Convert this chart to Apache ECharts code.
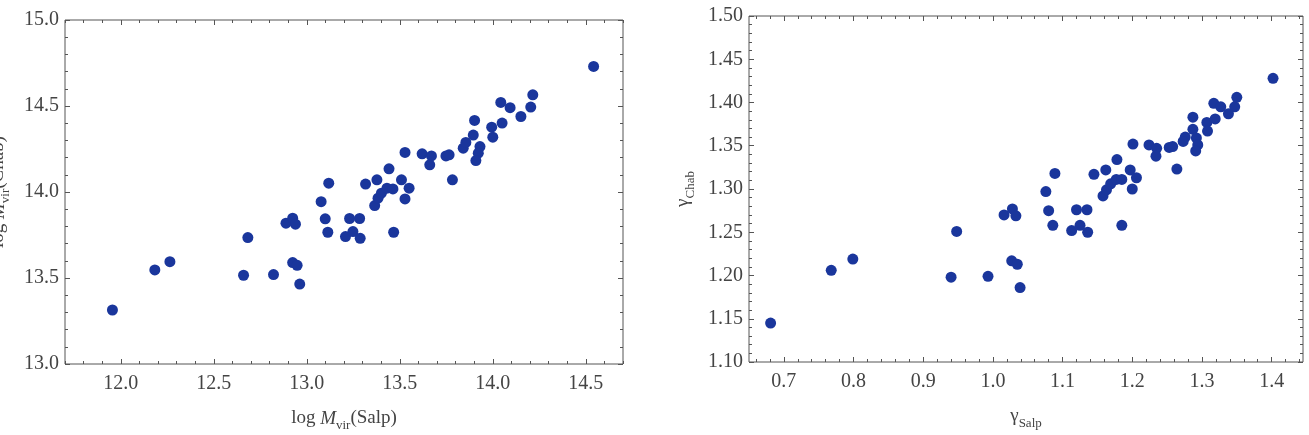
<!DOCTYPE html>
<html>
<head>
<meta charset="utf-8">
<script src="https://cdn.jsdelivr.net/npm/echarts@6/dist/echarts.min.js"></script>
<style>
  html, body { margin: 0; padding: 0; background: #fff; }
  #chart { width: 1309px; height: 435px; }
</style>
</head>
<body>
<div id="chart"></div>
<script>
// left panel: log Mvir with Salpeter vs Chabrier IMF
const salpMass = [11.955, 12.183, 12.264, 12.660, 12.683, 12.821, 12.888, 12.924, 12.939, 12.924,
  12.948, 12.962, 13.077, 13.118, 13.099, 13.113, 13.230, 13.284, 13.208, 13.248,
  13.287, 13.316, 13.377, 13.442, 13.365, 13.383, 13.401, 13.431, 13.463, 13.509,
  13.550, 13.528, 13.467, 13.528, 13.620, 13.670, 13.661, 13.748, 13.765, 13.783,
  13.841, 14.542, 14.215, 14.204, 14.043, 14.093, 14.151, 14.050, 13.994, 14.000,
  13.902, 13.895, 13.855, 13.931, 13.922, 13.909];
const chabMass = [13.314, 13.547, 13.595, 13.516, 13.735, 13.520, 13.819, 13.848, 13.813, 13.590,
  13.574, 13.465, 13.944, 14.051, 13.844, 13.766, 13.846, 13.846, 13.741, 13.770,
  13.731, 14.046, 14.071, 14.135, 13.921, 13.964, 13.993, 14.022, 14.018, 14.071,
  14.022, 13.960, 13.766, 14.230, 14.222, 14.210, 14.158, 14.210, 14.216, 14.071,
  14.255, 14.730, 14.565, 14.494, 14.521, 14.490, 14.439, 14.401, 14.377, 14.319,
  14.416, 14.331, 14.288, 14.264, 14.226, 14.183];

// right panel: gamma Salpeter vs Chabrier
const salpGamma = [0.681, 0.768, 0.799, 0.940, 0.948, 0.993, 1.016, 1.028, 1.033, 1.027,
  1.035, 1.039, 1.080, 1.086, 1.120, 1.135, 1.113, 1.125, 1.136, 1.185,
  1.076, 1.089, 1.145, 1.162, 1.178, 1.197, 1.206, 1.200, 1.158, 1.163,
  1.169, 1.177, 1.185, 1.201, 1.224, 1.235, 1.234, 1.253, 1.258, 1.264,
  1.402, 1.287, 1.287, 1.276, 1.273, 1.292, 1.294, 1.291, 1.307, 1.308,
  1.319, 1.317, 1.327, 1.338, 1.347, 1.350];
const chabGamma = [1.145, 1.206, 1.219, 1.198, 1.251, 1.199, 1.270, 1.277, 1.269, 1.217,
  1.213, 1.186, 1.275, 1.258, 1.276, 1.276, 1.252, 1.258, 1.250, 1.258,
  1.297, 1.318, 1.317, 1.322, 1.334, 1.322, 1.313, 1.300, 1.292, 1.299,
  1.306, 1.311, 1.311, 1.352, 1.351, 1.347, 1.338, 1.348, 1.349, 1.323,
  1.428, 1.383, 1.369, 1.360, 1.355, 1.359, 1.351, 1.344, 1.377, 1.367,
  1.381, 1.399, 1.395, 1.387, 1.395, 1.406];

const massXTicks = [12.0, 12.5, 13.0, 13.5, 14.0, 14.5];
const massYTicks = [13.0, 13.5, 14.0, 14.5, 15.0];
const gammaXTicks = [0.7, 0.8, 0.9, 1.0, 1.1, 1.2, 1.3, 1.4];
const gammaYTicks = [1.10, 1.15, 1.20, 1.25, 1.30, 1.35, 1.40, 1.45, 1.50];

const serif = "'Liberation Serif', 'Times New Roman', serif";
const frameColor = "#555";
const textColor = "#444";
const dotColor = "#1a369c";

function steps(min, max, step) {
  const out = [];
  const n = Math.round((max - min) / step);
  for (let i = 0; i <= n; i++) out.push(Math.round((min + i * step) * 1000) / 1000);
  return out;
}

function tickAxis(gridIndex, position, min, max, values, len, digits) {
  return {
    type: "value",
    gridIndex: gridIndex,
    position: position,
    min: min,
    max: max,
    axisLine: { show: false },
    splitLine: { show: false },
    axisTick: {
      show: true,
      inside: true,
      length: len,
      customValues: values,
      lineStyle: { color: frameColor, width: 1 },
    },
    axisLabel: {
      show: digits != null,
      customValues: values,
      formatter: (v) => v.toFixed(digits || 0),
      fontFamily: serif,
      fontSize: 20,
      color: textColor,
      margin: position === "bottom" ? 10 : 6,
    },
  };
}

const nameRich = {
  n: { fontFamily: serif, fontSize: 19, color: textColor, verticalAlign: "bottom", padding: [0, 0, 4, 0] },
  i: { fontFamily: serif, fontSize: 19, fontStyle: "italic", color: textColor, verticalAlign: "bottom", padding: [0, 0, 4, 0] },
  s: { fontFamily: serif, fontSize: 13, color: textColor, verticalAlign: "bottom" },
};

// x axes: 0-3 left panel, 4-7 right panel
const xAxes = [
  Object.assign(tickAxis(0, "bottom", 11.7, 14.7, massXTicks, 5, 1), {
    name: "{n|log }{i|M}{s|vir}{n|(Salp)}",
    nameLocation: "middle",
    nameGap: 45,
    nameTextStyle: { rich: nameRich },
  }),
  tickAxis(0, "bottom", 11.7, 14.7, steps(11.7, 14.7, 0.1), 3),
  tickAxis(0, "top", 11.7, 14.7, massXTicks, 5),
  tickAxis(0, "top", 11.7, 14.7, steps(11.7, 14.7, 0.1), 3),
  Object.assign(tickAxis(1, "bottom", 0.65, 1.445, gammaXTicks, 5, 1), {
    name: "{n|γ}{s|Salp}",
    nameLocation: "middle",
    nameGap: 45,
    nameTextStyle: { rich: nameRich },
  }),
  tickAxis(1, "bottom", 0.65, 1.445, steps(0.66, 1.44, 0.02), 3),
  tickAxis(1, "top", 0.65, 1.445, gammaXTicks, 5),
  tickAxis(1, "top", 0.65, 1.445, steps(0.66, 1.44, 0.02), 3),
];

const yAxes = [
  Object.assign(tickAxis(0, "left", 13.0, 15.0, massYTicks, 5, 1), {
    name: "{n|log }{i|M}{s|vir}{n|(Chab)}",
    nameLocation: "middle",
    nameGap: 53,
    nameTextStyle: { rich: nameRich },
  }),
  tickAxis(0, "left", 13.0, 15.0, steps(13.0, 15.0, 0.1), 3),
  tickAxis(0, "right", 13.0, 15.0, massYTicks, 5),
  tickAxis(0, "right", 13.0, 15.0, steps(13.0, 15.0, 0.1), 3),
  Object.assign(tickAxis(1, "left", 1.10, 1.50, gammaYTicks, 5, 2), {
    name: "{n|γ}{s|Chab}",
    nameLocation: "middle",
    nameGap: 52,
    nameTextStyle: { rich: nameRich },
  }),
  tickAxis(1, "left", 1.10, 1.50, steps(1.10, 1.50, 0.01), 3),
  tickAxis(1, "right", 1.10, 1.50, gammaYTicks, 5),
  tickAxis(1, "right", 1.10, 1.50, steps(1.10, 1.50, 0.01), 3),
];

const chart = echarts.init(document.getElementById("chart"), null, { renderer: "canvas" });

chart.setOption({
  animation: false,
  backgroundColor: "#fff",
  grid: [
    { left: 65, top: 20, width: 558, height: 344, outerBoundsMode: "none", show: true, borderColor: frameColor, borderWidth: 1, backgroundColor: "transparent" },
    { left: 749, top: 16, width: 554, height: 346, outerBoundsMode: "none", show: true, borderColor: frameColor, borderWidth: 1, backgroundColor: "transparent" },
  ],
  xAxis: xAxes,
  yAxis: yAxes,
  series: [
    {
      name: "log Mvir",
      type: "scatter",
      xAxisIndex: 0,
      yAxisIndex: 0,
      symbolSize: 11,
      itemStyle: { color: dotColor, opacity: 1 },
      data: salpMass.map((x, i) => [x, chabMass[i]]),
    },
    {
      name: "gamma",
      type: "scatter",
      xAxisIndex: 4,
      yAxisIndex: 4,
      symbolSize: 11,
      itemStyle: { color: dotColor, opacity: 1 },
      data: salpGamma.map((x, i) => [x, chabGamma[i]]),
    },
  ],
});
</script>
</body>
</html>
